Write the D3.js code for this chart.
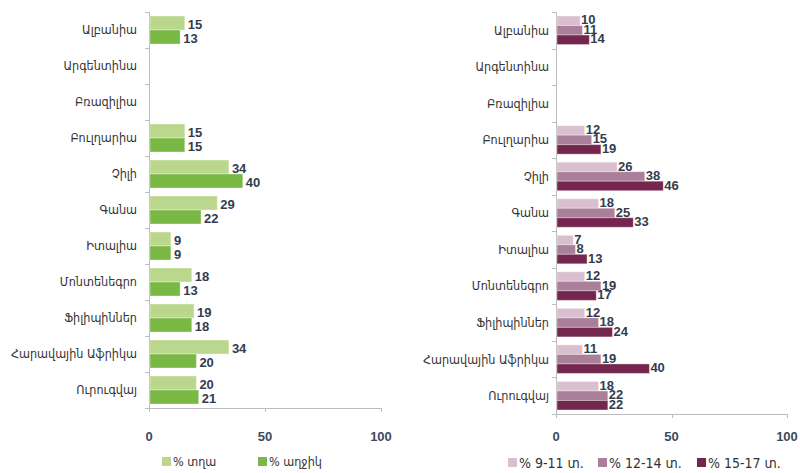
<!DOCTYPE html>
<html>
<head>
<meta charset="utf-8">
<script src="https://cdn.jsdelivr.net/npm/d3@7"></script>
<style>
  body { margin: 0; background: #fff; }
  .cat { font-family: "DejaVu Sans Condensed", "DejaVu Sans", sans-serif; font-size: 12.5px; fill: #333; }
  .val { font-family: "Liberation Sans Narrow", "Arial Narrow", sans-serif; font-weight: bold; font-size: 13px; fill: #333c4e; }
  .tick-label { font-family: "Liberation Sans Narrow", "Arial Narrow", sans-serif; font-weight: bold; font-size: 13px; fill: #3c4a5e; }
  .legend { font-family: "DejaVu Sans Condensed", "DejaVu Sans", sans-serif; fill: #333; }
</style>
</head>
<body>
<svg id="chart" width="800" height="473"></svg>
<script>
var countries = ["Ալբանիա", "Արգենտինա", "Բռազիլիա", "Բուլղարիա", "Չիլի", "Գանա",
  "Իտալիա", "Մոնտենեգրո", "Ֆիլիպիններ", "Հարավային Աֆրիկա", "Ուրուգվայ"];

var boys  = [15, null, null, 15, 34, 29, 9, 18, 19, 34, 20];
var girls = [13, null, null, 15, 40, 22, 9, 13, 18, 20, 21];

var age9_11  = [10, null, null, 12, 26, 18, 7, 12, 12, 11, 18];
var age12_14 = [11, null, null, 15, 38, 25, 8, 19, 18, 19, 22];
var age15_17 = [14, null, null, 19, 46, 33, 13, 17, 24, 40, 22];

var xTicks = [0, 50, 100];

var svg = d3.select("#chart");

drawPanel({
  x0: 149, x1: 381, y0: 12, y1: 408,
  labelX: 137, barH: 14, labelDx: 3, labelDy: 1,
  series: [
    {name: "% տղա", values: boys, color: "#bad78d"},
    {name: "% աղջիկ", values: girls, color: "#7ab845"}
  ],
  legendX: [162, 258], legendY: 462, legendSize: 12.5
});

drawPanel({
  x0: 556, x1: 787, y0: 12, y1: 414,
  labelX: 549, barH: 9.5, labelDx: 1, labelDy: -1,
  series: [
    {name: "% 9-11 տ.", values: age9_11, color: "#d9bfcf"},
    {name: "% 12-14 տ.", values: age12_14, color: "#a97f99"},
    {name: "% 15-17 տ.", values: age15_17, color: "#74264f"}
  ],
  legendX: [508, 598, 697], legendY: 463, legendSize: 14
});

function drawPanel(p) {
  var x = d3.scaleLinear().domain([0, 100]).range([p.x0, p.x1]);
  var y = d3.scaleBand().domain(countries).range([p.y0, p.y1]);

  var g = svg.append("g");

  // vertical axis with outer ticks at band edges
  g.append("line")
    .attr("x1", p.x0 + 0.5).attr("x2", p.x0 + 0.5)
    .attr("y1", p.y0).attr("y2", p.y1)
    .attr("stroke", "#bdbdbd");
  var edges = countries.map(function(c) { return y(c); }).concat([p.y1]);
  g.selectAll(".ytick").data(edges).enter().append("line")
    .attr("x1", p.x0 - 4).attr("x2", p.x0)
    .attr("y1", function(d) { return Math.round(d) + 0.5; })
    .attr("y2", function(d) { return Math.round(d) + 0.5; })
    .attr("stroke", "#bdbdbd");

  // horizontal axis
  g.append("line")
    .attr("x1", p.x0).attr("x2", p.x1 + 1)
    .attr("y1", p.y1 + 0.5).attr("y2", p.y1 + 0.5)
    .attr("stroke", "#bdbdbd");
  g.selectAll(".xtick").data(xTicks).enter().append("line")
    .attr("x1", function(d) { return Math.round(x(d)) + 0.5; })
    .attr("x2", function(d) { return Math.round(x(d)) + 0.5; })
    .attr("y1", p.y1).attr("y2", p.y1 + 4)
    .attr("stroke", "#bdbdbd");
  g.selectAll(".tick-label").data(xTicks).enter().append("text")
    .attr("class", "tick-label")
    .attr("x", function(d) { return x(d); })
    .attr("y", 441)
    .attr("text-anchor", "middle")
    .text(function(d) { return d; });

  // category labels
  g.selectAll(".cat").data(countries).enter().append("text")
    .attr("class", "cat")
    .attr("x", p.labelX)
    .attr("y", function(d) { return y(d) + y.bandwidth() / 2; })
    .attr("dy", "0.35em")
    .attr("text-anchor", "end")
    .text(function(d) { return d; });

  // bars
  var n = p.series.length;
  var groupTop = function(c) { return y(c) + (y.bandwidth() - n * p.barH) / 2; };

  p.series.forEach(function(s, si) {
    var rows = countries.map(function(c, i) { return {c: c, v: s.values[i]}; })
      .filter(function(d) { return d.v != null; });

    g.selectAll(null).data(rows).enter().append("rect")
      .attr("x", x(0) + 1)
      .attr("y", function(d) { return groupTop(d.c) + si * p.barH; })
      .attr("width", function(d) { return x(d.v) - x(0); })
      .attr("height", p.barH)
      .attr("fill", s.color)
      .attr("stroke", "rgba(255,255,255,0.35)")
      .attr("stroke-width", 1);

    g.selectAll(null).data(rows).enter().append("text")
      .attr("class", "val")
      .attr("x", function(d) { return x(d.v) + 1 + p.labelDx; })
      .attr("y", function(d) { return groupTop(d.c) + si * p.barH + p.barH / 2 + p.labelDy; })
      .attr("dy", "0.35em")
      .text(function(d) { return d.v; });
  });

  // legend
  p.series.forEach(function(s, si) {
    g.append("rect")
      .attr("x", p.legendX[si]).attr("y", p.legendY - 5)
      .attr("width", 9).attr("height", 9)
      .attr("fill", s.color);
    g.append("text")
      .attr("class", "legend")
      .attr("x", p.legendX[si] + 11)
      .attr("y", p.legendY)
      .attr("dy", "0.35em")
      .style("font-size", p.legendSize + "px")
      .text(s.name);
  });
}
</script>
</body>
</html>
